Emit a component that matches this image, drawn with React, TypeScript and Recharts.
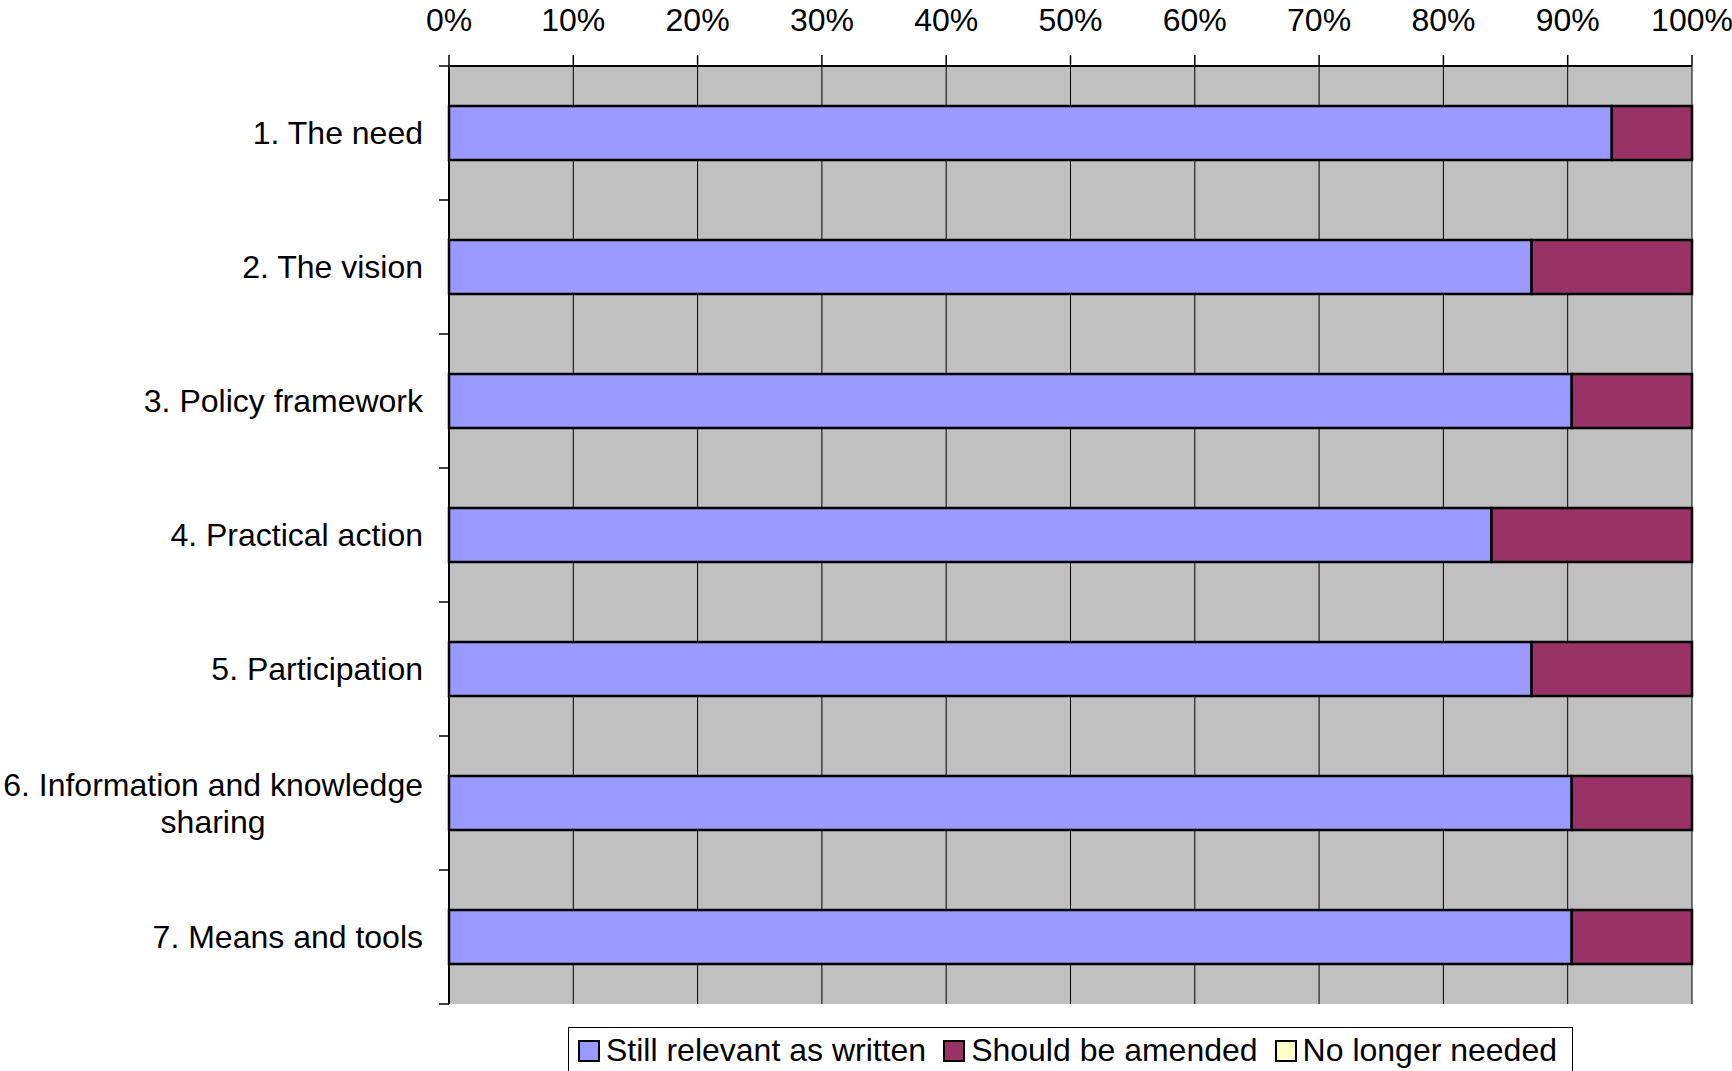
import React from 'react';
import { BarChart, Bar, XAxis, YAxis, CartesianGrid } from 'recharts';

// Survey answers per chapter (number of respondents)
const chapters = [
  '1. The need',
  '2. The vision',
  '3. Policy framework',
  '4. Practical action',
  '5. Participation',
  '6. Information and knowledge sharing',
  '7. Means and tools',
];
const stillRelevant = [29, 27, 28, 26, 27, 28, 28];
const shouldAmend = [2, 4, 3, 5, 4, 3, 3];
const noLongerNeeded = [0, 0, 0, 0, 0, 0, 0];

const percentTicks = [0, 0.1, 0.2, 0.3, 0.4, 0.5, 0.6, 0.7, 0.8, 0.9, 1];

const series = [
  { key: 'relevant', name: 'Still relevant as written', color: '#9999FF' },
  { key: 'amend', name: 'Should be amended', color: '#993366' },
  { key: 'obsolete', name: 'No longer needed', color: '#FFFFCC' },
];

const data = chapters.map((name, i) => ({
  name,
  relevant: stillRelevant[i],
  amend: shouldAmend[i],
  obsolete: noLongerNeeded[i],
}));

const FONT = "'Liberation Sans', Arial, sans-serif";
const FONT_SIZE = 32;
const LINE_H = 37;
const Y_TICK_SIZE = 10;
const Y_TICK_MARGIN = 16;
const LABEL_MAX = 425;

const ctx = typeof document !== 'undefined' ? document.createElement('canvas').getContext('2d') : null;

const textWidth = (s: string) => {
  if (!ctx) return s.length * FONT_SIZE * 0.5;
  ctx.font = `${FONT_SIZE}px 'Liberation Sans', Arial, sans-serif`;
  return ctx.measureText(s).width;
};

// break a label into lines that fit the axis width
const wrapLabel = (text: string, maxWidth: number) => {
  const words = text.split(' ');
  const lines: string[] = [];
  let cur = '';
  words.forEach((w) => {
    const next = cur ? `${cur} ${w}` : w;
    if (cur && textWidth(next) > maxWidth) {
      lines.push(cur);
      cur = w;
    } else {
      cur = next;
    }
  });
  if (cur) lines.push(cur);
  return lines;
};

const CategoryTick = (props: any) => {
  const { x, y, payload, index } = props;
  const half = payload.offset ?? 0;
  const lines = wrapLabel(String(payload.value), LABEL_MAX);
  const widest = Math.max(...lines.map(textWidth));
  const tx0 = x + Y_TICK_MARGIN;
  const tx1 = tx0 + Y_TICK_SIZE;
  const capHalf = FONT_SIZE * 0.716 / 2;

  return (
    <g>
      <line x1={tx0} x2={tx1} y1={y - half} y2={y - half} stroke="#000" strokeWidth={1.5} />
      {index === chapters.length - 1 && (
        <line x1={tx0} x2={tx1} y1={y + half} y2={y + half} stroke="#000" strokeWidth={1.5} />
      )}
      {lines.map((line, i) => (
        <text
          key={i}
          x={lines.length === 1 ? x : x - widest / 2}
          y={y + capHalf + (i - (lines.length - 1) / 2) * LINE_H}
          textAnchor={lines.length === 1 ? 'end' : 'middle'}
          fontSize={FONT_SIZE}
          fontFamily={FONT}
          fill="#000"
        >
          {line}
        </text>
      ))}
    </g>
  );
};

const ChartLegend = () => (
  <div
    style={{
      position: 'absolute',
      left: 568,
      top: 1027,
      width: 1005,
      height: 80,
      border: '1px solid #000',
      boxSizing: 'border-box',
      display: 'flex',
      alignItems: 'flex-start',
      paddingLeft: 9,
      paddingTop: 4,
      fontFamily: FONT,
      fontSize: FONT_SIZE,
      color: '#000',
      background: '#fff',
      whiteSpace: 'nowrap',
    }}
  >
    {series.map((s) => (
      <div
        key={s.key}
        style={{ display: 'flex', alignItems: 'center', marginRight: 17, lineHeight: '37px', flexShrink: 0 }}
      >
        <span
          style={{
            display: 'inline-block',
            width: 22,
            height: 22,
            boxSizing: 'border-box',
            border: '2px solid #000',
            background: s.color,
            marginRight: 6,
            flexShrink: 0,
          }}
        />
        <span>{s.name}</span>
      </div>
    ))}
  </div>
);

export default function App() {
  return (
    <div
      style={{
        position: 'absolute',
        left: 0,
        top: 0,
        width: 1732,
        height: 1071,
        overflow: 'hidden',
        background: '#fff',
        fontFamily: FONT,
      }}
    >
      <BarChart
        width={1732}
        height={1071}
        data={data}
        layout="vertical"
        stackOffset="expand"
        margin={{ top: 0, right: 40, left: 0, bottom: 67 }}
      >
        <CartesianGrid
          xAxisId="top"
          yAxisId="left"
          horizontal={false}
          fill="#C0C0C0"
          fillOpacity={1}
          stroke="#000"
          strokeWidth={1}
        />
        <XAxis
          xAxisId="top"
          type="number"
          orientation="top"
          domain={[0, 1]}
          ticks={percentTicks}
          interval={0}
          height={66}
          tickSize={11}
          tickMargin={24}
          tickFormatter={(v: number) => `${Math.round(v * 100)}%`}
          tick={{ fontSize: FONT_SIZE, fill: '#000', fontFamily: FONT }}
          tickLine={{ stroke: '#000', strokeWidth: 1.5 }}
          axisLine={{ stroke: '#000', strokeWidth: 2 }}
        />
        <XAxis
          xAxisId="bottom"
          type="number"
          orientation="bottom"
          domain={[0, 1]}
          height={0}
          tick={false}
          tickLine={false}
          axisLine={{ stroke: '#808080', strokeWidth: 3 }}
        />
        <YAxis
          yAxisId="left"
          type="category"
          dataKey="name"
          width={449}
          interval={0}
          tickSize={Y_TICK_SIZE}
          tickMargin={Y_TICK_MARGIN}
          tickLine={false}
          tick={<CategoryTick />}
          axisLine={{ stroke: '#000', strokeWidth: 2 }}
        />
        <YAxis
          yAxisId="right"
          type="category"
          dataKey="name"
          orientation="right"
          width={0}
          tick={false}
          tickLine={false}
          axisLine={{ stroke: '#808080', strokeWidth: 3 }}
        />
        {series.map((s) => (
          <Bar
            key={s.key}
            xAxisId="top"
            yAxisId="left"
            dataKey={s.key}
            name={s.name}
            stackId="answers"
            fill={s.color}
            stroke="#000"
            strokeWidth={2.5}
            barSize={54}
            isAnimationActive={false}
          />
        ))}
      </BarChart>
      <ChartLegend />
    </div>
  );
}
